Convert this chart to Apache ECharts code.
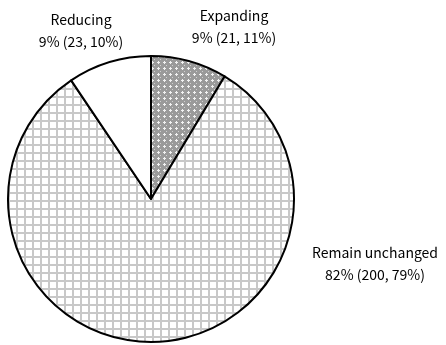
<!DOCTYPE html>
<html><head><meta charset="utf-8">
<script src="https://cdn.jsdelivr.net/npm/echarts@6/dist/echarts.min.js"></script>
<style>html,body{margin:0;padding:0;background:#fff}#c{width:446px;height:345px}</style>
</head><body><div id="c"></div>
<script>
const categories = ['Expanding', 'Remain unchanged', 'Reducing'];
const counts = [21, 200, 23];
const priorShares = ['11%', '79%', '10%'];

function gridPattern() {
  const c = document.createElement('canvas');
  c.width = 8; c.height = 8;
  const g = c.getContext('2d');
  g.fillStyle = '#fff'; g.fillRect(0, 0, 8, 8);
  g.fillStyle = '#c8c8c8';
  g.fillRect(0, 0, 8, 2);
  g.fillRect(0, 0, 2, 8);
  return c;
}
function crossPattern() {
  const c = document.createElement('canvas');
  c.width = 6; c.height = 6;
  const g = c.getContext('2d');
  g.fillStyle = '#9a9a9a'; g.fillRect(0, 0, 6, 6);
  g.fillStyle = '#f2f2f2';
  g.fillRect(1, 2, 3, 1);
  g.fillRect(2, 1, 1, 3);
  g.fillStyle = '#d0d0d0';
  g.fillRect(4, 5, 1, 1);
  return c;
}
const fills = [
  { image: crossPattern(), repeat: 'repeat' },
  { image: gridPattern(), repeat: 'repeat' },
  '#ffffff'
];
const labelPos = [[234, 27], [375, 264], [81, 31]];

const chart = echarts.init(document.getElementById('c'), null, { renderer: 'canvas' });
chart.setOption({
  animation: false,
  series: [{
    type: 'pie',
    center: [151, 199],
    radius: 143,
    startAngle: 90,
    clockwise: true,
    data: categories.map((n, i) => ({
      name: n, value: counts[i], prior: priorShares[i],
      itemStyle: { color: fills[i] }
    })),
    itemStyle: { borderColor: '#000', borderWidth: 2 },
    label: {
      show: true,
      position: 'outside',
      color: '#000',
      fontSize: 14,
      lineHeight: 22,
      align: 'center',
      overflow: 'none',
      fontFamily: '"Noto Sans CJK JP", "Noto Sans", sans-serif',
      formatter: p => p.name + '\n' + p.percent.toFixed(0) + '% (' + p.value + ', ' + p.data.prior + ')'
    },
    labelLine: { show: false },
    labelLayout: p => ({ x: labelPos[p.dataIndex][0], y: labelPos[p.dataIndex][1], align: 'center', verticalAlign: 'middle', hideOverlap: false, moveOverlap: false }),
    emphasis: { disabled: true }
  }]
});
</script></body></html>
